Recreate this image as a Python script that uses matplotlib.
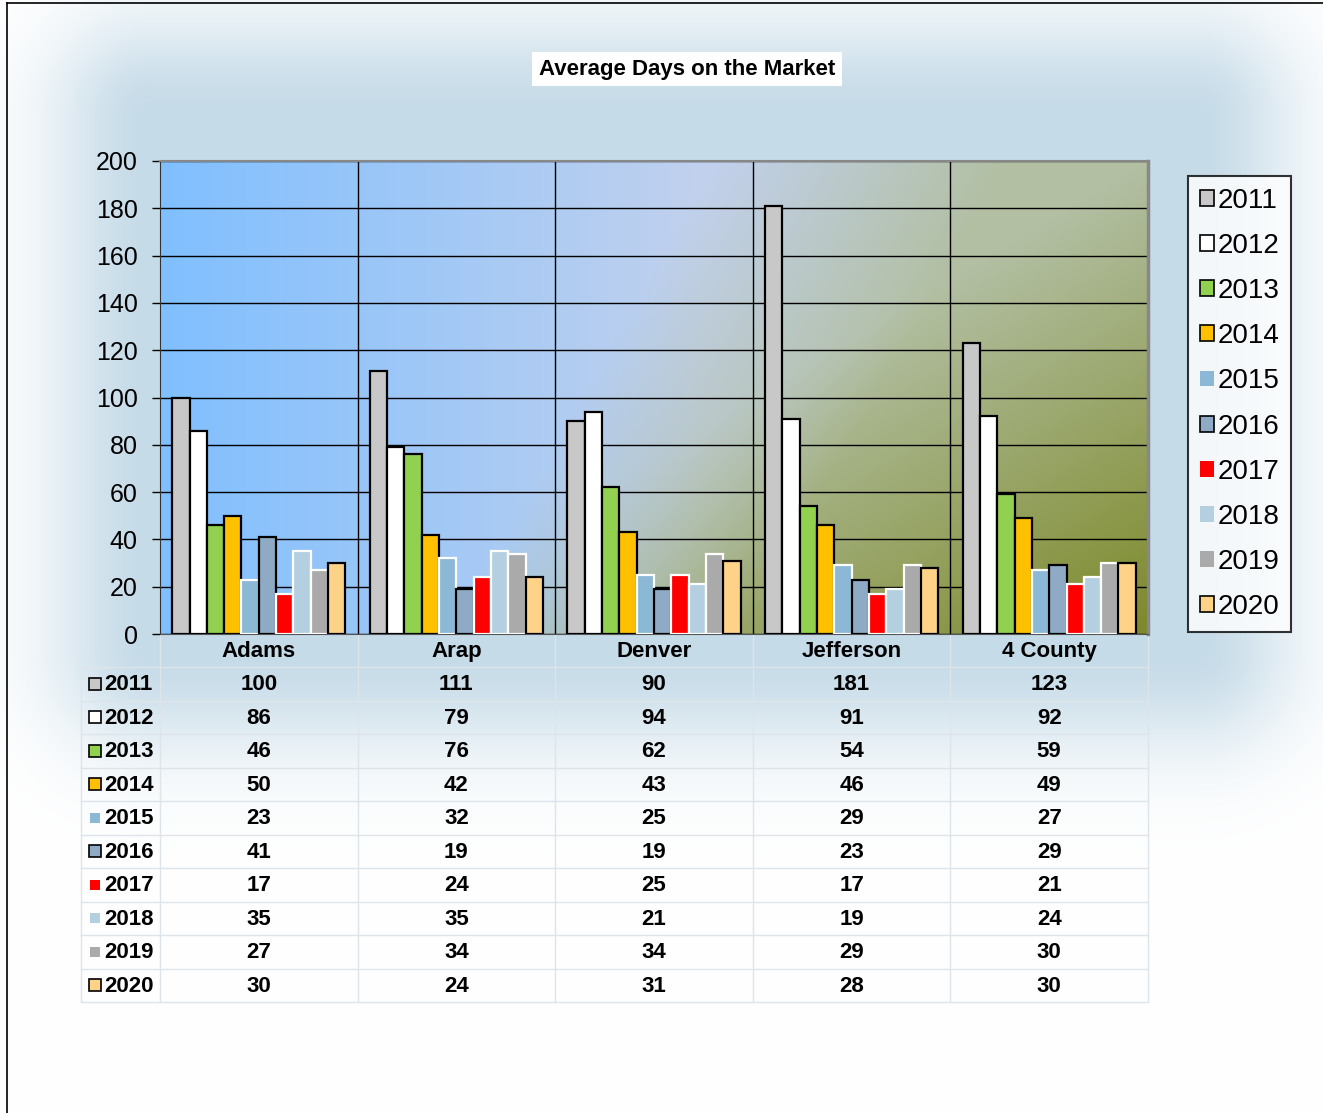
"""Average days on the market: grouped bars with a data table below."""

import matplotlib.pyplot as plt
import numpy as np
from matplotlib.patches import Patch

plt.rcParams['font.family'] = ['Liberation Sans', 'DejaVu Sans']

counties = ['Adams', 'Arap', 'Denver', 'Jefferson', '4 County']
years = ['2011', '2012', '2013', '2014', '2015', '2016', '2017', '2018', '2019', '2020']
d2011 = [100, 111, 90, 181, 123]
d2012 = [86, 79, 94, 91, 92]
d2013 = [46, 76, 62, 54, 59]
d2014 = [50, 42, 43, 46, 49]
d2015 = [23, 32, 25, 29, 27]
d2016 = [41, 19, 19, 23, 29]
d2017 = [17, 24, 25, 17, 21]
d2018 = [35, 35, 21, 19, 24]
d2019 = [27, 34, 34, 29, 30]
d2020 = [30, 24, 31, 28, 30]
series = [d2011, d2012, d2013, d2014, d2015, d2016, d2017, d2018, d2019, d2020]

colors = ['#c8c8c8', '#ffffff', '#92d050', '#ffc000', '#8bb8d4',
          '#8eaac4', '#ff0000', '#b4d0e0', '#aaaaaa', '#ffd387']
edges = ['black', 'black', 'black', 'black', 'white',
         'black', 'white', 'white', 'white', 'black']

W, H = 1323, 1113
fig = plt.figure(figsize=(W / 100, H / 100), dpi=100)

# ---- outer background: soft blue glow on white ----
bg = fig.add_axes([0, 0, 1, 1], zorder=-10)
bg.set_xlim(0, W)
bg.set_ylim(H, 0)
bg.axis('off')
yy, xx = np.mgrid[0:H, 0:W]
x0, x1, y0, y1 = 150, 1195, 115, 650
dx = np.maximum(np.maximum(x0 - xx, 0), xx - x1)
dy = np.maximum(np.maximum(y0 - yy, 0), yy - y1)
dist = np.sqrt(dx ** 2 + dy ** 2)
alpha = np.exp(-(dist / 100.0) ** 2)[..., None]
glow = np.array([0.776, 0.859, 0.910])
img = (1 - alpha) * 1.0 + alpha * glow
bg.imshow(img, extent=(0, W, H, 0), aspect='auto', interpolation='bilinear')
bg.plot([7, 7], [3, H], color='black', lw=1.2)
bg.plot([7, W], [3, 3], color='black', lw=1.2)

# ---- data table under the chart ----
col_edges = np.linspace(160, 1148, len(counties) + 1)
col_centers = (col_edges[:-1] + col_edges[1:]) / 2
header_top, header_bot = 634, 667
row_h = (1002 - header_bot) / len(years)
line_c = '#dde4ea'
for ce in col_edges:
    bg.plot([ce, ce], [header_top, 1002], color=line_c, lw=1)
bg.plot([81, 81], [header_bot, 1002], color=line_c, lw=1)
for i in range(len(years) + 1):
    yl = header_bot + i * row_h
    bg.plot([81, 1148], [yl, yl], color=line_c, lw=1)
for cx, name in zip(col_centers, counties):
    bg.text(cx, (header_top + header_bot) / 2 + 1, name, ha='center', va='center',
            fontsize=16, fontweight='bold')
for i, (yr, vals) in enumerate(zip(years, series)):
    yc = header_bot + (i + 0.5) * row_h
    ec = edges[i] if edges[i] == 'black' else 'none'
    ms = 8 if ec == 'black' else 7
    bg.plot([95], [yc], marker='s', ms=ms, mfc=colors[i], mec=ec, mew=1.2)
    bg.text(104, yc + 1, yr, ha='left', va='center', fontsize=16, fontweight='bold')
    for cx, v in zip(col_centers, vals):
        bg.text(cx, yc + 1, str(v), ha='center', va='center', fontsize=16,
                fontweight='bold')

# ---- main chart ----
ax = fig.add_axes([160 / W, 1 - 634 / H, 988 / W, 473 / H], zorder=1)
ax.patch.set_visible(False)
ax.set_xlim(0, len(counties))
ax.set_ylim(0, 200)

# plot-area gradient: blue on the left, grey-green then olive toward bottom right
gh, gw = 240, 480
v, u = np.mgrid[0:gh, 0:gw]
u = u / (gw - 1)
v = v / (gh - 1)
blue_l = np.array([0.50, 0.75, 1.00])
blue_c = np.array([0.76, 0.82, 0.93])
b = np.clip(u / 0.55, 0, 1)[..., None]
base = (1 - b) * blue_l + b * blue_c
green_l = np.array([0.70, 0.75, 0.64])
olive_d = np.array([0.49, 0.54, 0.16])
g = np.clip((u + 0.27 * v - 0.56) / 0.30, 0, 1)[..., None]
k = np.clip((u + 0.8 * v - 1.0) / 0.8, 0, 1)[..., None] * g
grad = (1 - g) * base + g * green_l
grad = (1 - k) * grad + k * olive_d
ax.imshow(grad, extent=(0, len(counties), 0, 200), origin='upper',
          aspect='auto', interpolation='bilinear', zorder=0)

bw = 0.0876
x = np.arange(len(counties))
start = 0.5 - bw * len(years) / 2
for i, vals in enumerate(series):
    ax.bar(x + start + bw * (i + 0.5), vals, width=bw, color=colors[i],
           edgecolor=edges[i], linewidth=1.6, zorder=3)

ax.set_yticks(np.arange(0, 201, 20))
ax.yaxis.grid(True, color='black', lw=1)
for xv in range(1, len(counties)):
    ax.axvline(xv, color='black', lw=1, zorder=1)
ax.set_axisbelow(True)
ax.set_xticks([])
ax.tick_params(axis='y', labelsize=18, length=6, width=1, direction='out', pad=10)
ax.spines['left'].set_color('#333333')
ax.spines['bottom'].set_color('#555555')
ax.spines['top'].set_color('#888888')
ax.spines['right'].set_color('#888888')
ax.spines['right'].set_linewidth(2.5)
ax.spines['top'].set_linewidth(1.5)

handles = []
for i, yr in enumerate(years):
    ec = edges[i] if edges[i] == 'black' else 'none'
    handles.append(Patch(facecolor=colors[i], edgecolor=ec, linewidth=1.2, label=yr))
leg = fig.legend(handles=handles, loc='upper left',
                 bbox_to_anchor=(1188 / W, 1 - 176 / H), fontsize=20,
                 frameon=True, fancybox=False, edgecolor='black',
                 handlelength=0.5, handleheight=0.5, handletextpad=0.15,
                 labelspacing=0.69, borderpad=0.42, borderaxespad=0)
leg.get_frame().set_linewidth(1.5)

fig.text(687 / W, 1 - 69 / H, 'Average Days on the Market', ha='center',
         va='center', fontsize=16, fontweight='bold',
         bbox=dict(facecolor='white', edgecolor='none', pad=5))

fig.savefig('out.png', dpi=100)
